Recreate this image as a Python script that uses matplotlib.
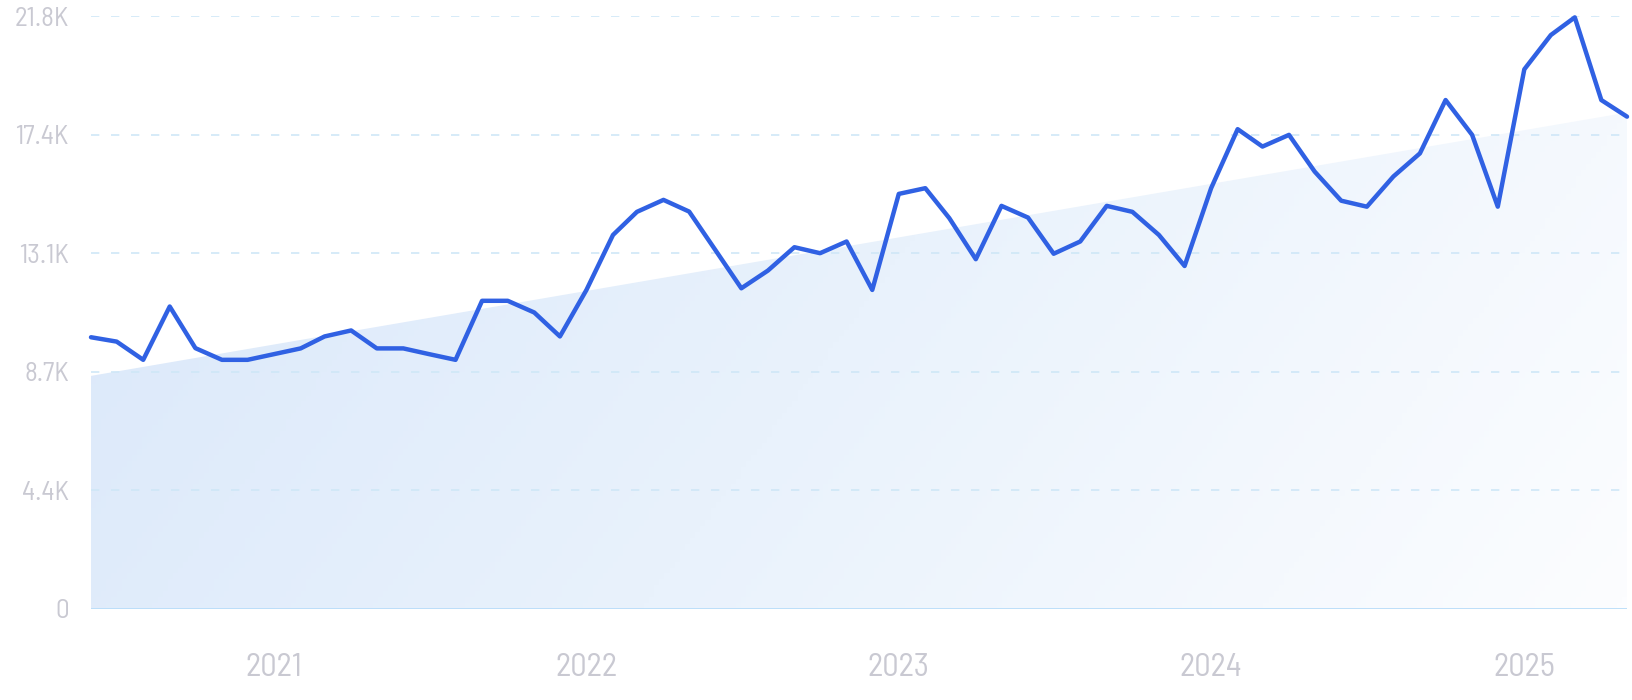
import numpy as np
import pandas as pd
import matplotlib
matplotlib.use("Agg")
import matplotlib.pyplot as plt
import matplotlib.dates as mdates
from matplotlib import font_manager as fm
from matplotlib.patches import Polygon
from matplotlib.colors import LinearSegmentedColormap

# monthly values (thousands), Jun 2020 .. May 2025
months = pd.date_range("2020-06-01", periods=60, freq="MS")
values = [
    9.99, 9.83, 9.16, 11.12, 9.59, 9.16, 9.16, 9.37, 9.58, 10.02,
    10.24, 9.58, 9.58, 9.37, 9.16, 11.33, 11.33, 10.90, 10.02, 11.73,
    13.75, 14.60, 15.04, 14.61, 13.18, 11.79, 12.44, 13.30, 13.08, 13.51,
    11.73, 15.26, 15.47, 14.37, 12.86, 14.82, 14.39, 13.06, 13.51, 14.82,
    14.60, 13.75, 12.61, 15.47, 17.64, 17.00, 17.43, 16.08, 15.01, 14.79,
    15.90, 16.75, 18.71, 17.43, 14.79, 19.84, 21.10, 21.75, 18.71, 18.10,
]
trend_ends = [8.57, 18.25]

y_ticks = [0, 4.36, 8.72, 13.08, 17.44, 21.8]
y_labels = ["0", "4.4K", "8.7K", "13.1K", "17.4K", "21.8K"]
year_ticks = pd.to_datetime(["2021-01-01", "2022-01-01", "2023-01-01", "2024-01-01", "2025-01-01"])
year_labels = ["2021", "2022", "2023", "2024", "2025"]

# narrow font, first one that is installed
have = {f.name for f in fm.fontManager.ttflist}
font = "DejaVu Sans"
for cand in ["Barlow Semi Condensed", "Roboto Condensed", "Barlow Condensed",
             "Archivo Narrow", "Asap Condensed"]:
    if cand in have:
        font = cand
        break
plt.rcParams["font.family"] = [font, "DejaVu Sans"]

fig = plt.figure(figsize=(16.32, 7), dpi=100)
ax = fig.add_axes([91 / 1632, 1 - 609 / 700, (1627 - 91) / 1632, (609 - 16) / 700])

xnum = mdates.date2num(months)
x0, x1 = xnum[0], xnum[-1]

# gradient fill under the trend line
cmap = LinearSegmentedColormap.from_list("fade", ["#d9e7fa", "#e9f2fc", "#fcfdff"])
gx, gy = np.meshgrid(np.linspace(0, 1, 300), np.linspace(0, 1, 100))
grad = np.clip(0.78 * gx + 0.22 * (1 - gy), 0, 1)
im = ax.imshow(grad, extent=[x0, x1, 0, 21.8], origin="lower", aspect="auto",
               cmap=cmap, vmin=0, vmax=1, zorder=0.5)
poly = Polygon([[x0, 0], [x0, trend_ends[0]], [x1, trend_ends[1]], [x1, 0]],
               closed=True, facecolor="none", edgecolor="none")
ax.add_patch(poly)
im.set_clip_path(poly)

# grid
for t in y_ticks[1:]:
    ax.axhline(t, color="#cfe7f7", lw=1.2, linestyle=(0, (5, 7)), zorder=1)
ax.axhline(0, color="#b9ddf9", lw=1.3, zorder=1)

ax.plot(months, values, color="#3061e3", lw=3.2, solid_joinstyle="round",
        solid_capstyle="round", zorder=3, clip_on=False)

ax.set_xlim(x0, x1)
ax.set_ylim(0, 21.8)
ax.set_yticks(y_ticks)
ax.set_yticklabels(y_labels)
ax.set_xticks(year_ticks)
ax.set_xticklabels(year_labels)
ax.tick_params(axis="y", length=0, pad=16, labelsize=19.5, labelcolor="#c9c9d2")
ax.tick_params(axis="x", length=0, pad=32, labelsize=23.5, labelcolor="#c9c9d2")
for s in ax.spines.values():
    s.set_visible(False)

fig.savefig("out.png", dpi=100, facecolor="white")
plt.close(fig)
